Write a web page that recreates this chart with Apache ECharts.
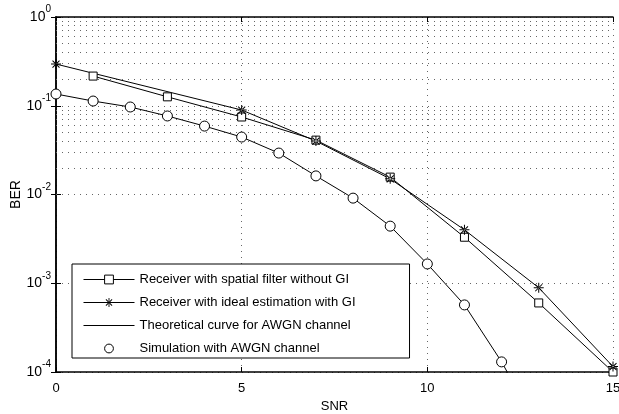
<!DOCTYPE html>
<html>
<head>
<meta charset="utf-8">
<script src="https://cdn.jsdelivr.net/npm/echarts@6/dist/echarts.min.js"></script>
<style>
  html, body { margin: 0; padding: 0; background: #fff; }
  #main { width: 619px; height: 414px; }
</style>
</head>
<body>
<div id="main"></div>
<script>
// 数据
var seriesNames = [
  'Receiver with spatial filter without GI',
  'Receiver with ideal estimation with GI',
  'Theoretical curve for AWGN channel',
  'Simulation with AWGN channel'
];
var snrSquare = [1, 3, 5, 7, 9, 11, 13, 15];
var berSquare = [0.216, 0.126, 0.0747, 0.041, 0.0157, 0.0033, 0.00060, 0.0001];
var snrStar = [0, 5, 7, 9, 11, 13, 15];
var berStar = [0.295, 0.0895, 0.040, 0.015, 0.0040, 0.00089, 0.000115];
var snrTheory = [0, 1, 2, 3, 4, 5, 6, 7, 8, 9, 10, 11, 12, 13];
var berTheory = [0.1356, 0.113, 0.0968, 0.0767, 0.059, 0.0444, 0.0293, 0.0162, 0.0091, 0.0044, 0.00165, 0.00057, 0.00013, 0.000023];
var snrSim = [0, 1, 2, 3, 4, 5, 6, 7, 8, 9, 10, 11, 12];
var berSim = [0.1356, 0.113, 0.0968, 0.0767, 0.059, 0.0444, 0.0293, 0.0162, 0.0091, 0.0044, 0.00165, 0.00057, 0.00013];
var decades = [1e-4, 1e-3, 1e-2, 1e-1];
var minorMult = [2, 3, 4, 5, 6, 7, 8, 9];

var font = 'Liberation Sans';
var dotted = { color: '#666', width: 1, type: [1, 5] };

// 星号
var starPath = 'path://M-1,-10L1,-10L1,10L-1,10Z M-10,-1L10,-1L10,1L-10,1Z' +
  ' M-7.7,-6.3L6.3,7.7L7.7,6.3L-6.3,-7.7Z M-6.3,7.7L7.7,-6.3L6.3,-7.7L-7.7,6.3Z';

function pairs(xs, ys) {
  var out = [];
  for (var i = 0; i < xs.length; i++) out.push([xs[i], ys[i]]);
  return out;
}

// 次网格线 2..9 x 10^k
var minorLines = [];
decades.forEach(function (d) {
  minorMult.forEach(function (m) {
    minorLines.push({ yAxis: +(d * m).toPrecision(3) });
  });
});

function supLabel(v) {
  var e = Math.round(Math.log10(v));
  return '{b|10}{s|' + e + '}';
}

var chart = echarts.init(document.getElementById('main'), null, { renderer: 'canvas' });

var hollow = { color: '#fff', borderColor: '#000', borderWidth: 1 };

var option = {
  animation: false,
  backgroundColor: '#fff',
  textStyle: { fontFamily: font },
  grid: { left: 56, right: 6, top: 17, bottom: 42, containLabel: false, outerBoundsMode: 'none' },
  legend: {
    orient: 'vertical',
    left: 72,
    top: 264,
    padding: [9, 54, 3, 11],
    itemWidth: 51,
    itemHeight: 11,
    itemGap: 10,
    backgroundColor: '#fff',
    borderColor: '#000',
    borderWidth: 1,
    itemStyle: { borderWidth: 1 },
    lineStyle: { width: 1 },
    textStyle: { fontFamily: font, fontSize: 13, color: '#000' },
    data: [
      { name: seriesNames[0] },
      { name: seriesNames[1] },
      { name: seriesNames[2], itemStyle: { opacity: 0 } },
      { name: seriesNames[3] }
    ]
  },
  xAxis: [{
    type: 'value',
    min: 0, max: 15, interval: 5,
    position: 'bottom',
    name: 'SNR',
    nameLocation: 'middle',
    nameGap: 28,
    nameTextStyle: { fontFamily: font, fontSize: 13, color: '#000' },
    axisLine: { lineStyle: { color: '#000', width: 1.5 } },
    axisTick: { inside: true, length: 5, lineStyle: { color: '#000' } },
    axisLabel: { fontFamily: font, fontSize: 13, color: '#000', margin: 10 },
    splitLine: { show: true, lineStyle: dotted }
  }, {
    type: 'value',
    min: 0, max: 15, interval: 5,
    position: 'top',
    axisLine: { lineStyle: { color: '#000', width: 1.5 } },
    axisTick: { inside: true, length: 5, lineStyle: { color: '#000' } },
    axisLabel: { show: false },
    splitLine: { show: false }
  }],
  yAxis: [{
    type: 'log',
    logBase: 10,
    min: 1e-4, max: 1,
    position: 'left',
    name: 'BER',
    nameLocation: 'middle',
    nameGap: 33,
    nameMoveOverlap: false,
    nameTextStyle: { fontFamily: font, fontSize: 14, color: '#000' },
    axisLine: { lineStyle: { color: '#000', width: 1.5 } },
    axisTick: { inside: true, length: 5, lineStyle: { color: '#000' } },
    axisLabel: {
      margin: 5,
      formatter: supLabel,
      rich: {
        b: { fontFamily: font, fontSize: 14, color: '#000' },
        s: { fontFamily: font, fontSize: 10, color: '#000', padding: [0, 0, 15, 0] }
      }
    },
    splitLine: { show: true, lineStyle: dotted }
  }, {
    type: 'log',
    logBase: 10,
    min: 1e-4, max: 1,
    position: 'right',
    axisLine: { lineStyle: { color: '#000', width: 1.5 } },
    axisTick: { inside: true, length: 5, lineStyle: { color: '#000' } },
    axisLabel: { show: false },
    splitLine: { show: false }
  }],
  series: [{
    name: seriesNames[0],
    type: 'line',
    data: pairs(snrSquare, berSquare),
    symbol: 'rect',
    symbolSize: 8,
    itemStyle: hollow,
    lineStyle: { color: '#000', width: 1 },
    z: 3,
    markLine: {
      silent: true,
      symbol: 'none',
      label: { show: false },
      lineStyle: dotted,
      z: 1,
      data: minorLines
    }
  }, {
    name: seriesNames[1],
    type: 'line',
    data: pairs(snrStar, berStar),
    symbol: starPath,
    symbolSize: 10,
    itemStyle: { color: '#000' },
    lineStyle: { color: '#000', width: 1 },
    z: 3
  }, {
    name: seriesNames[2],
    type: 'line',
    data: pairs(snrTheory, berTheory),
    symbol: 'none',
    itemStyle: { color: '#000' },
    lineStyle: { color: '#000', width: 1 },
    z: 3
  }, {
    name: seriesNames[3],
    type: 'line',
    data: pairs(snrSim, berSim),
    symbol: 'circle',
    symbolSize: 10,
    itemStyle: hollow,
    lineStyle: { color: 'transparent', width: 1 },
    z: 4
  }]
};

chart.setOption(option);
</script>
</body>
</html>
